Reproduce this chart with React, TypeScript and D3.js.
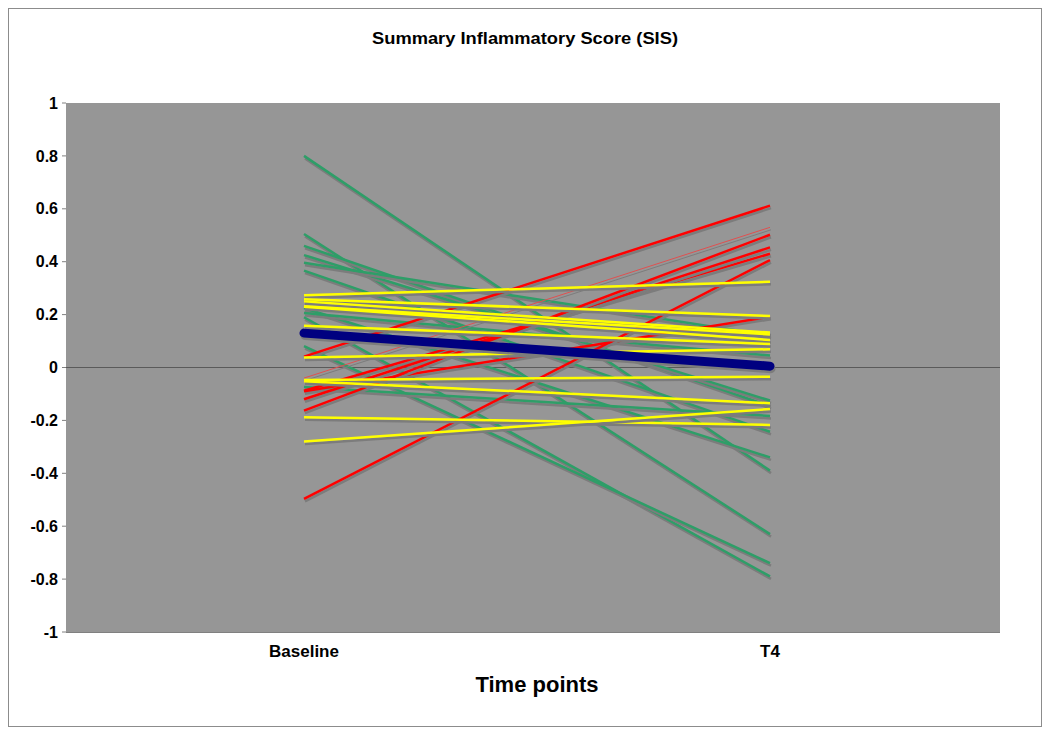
import React from "react";
import * as d3 from "d3";

const categories = ["Baseline", "T4"];
const yTicks = [1, 0.8, 0.6, 0.4, 0.2, 0, -0.2, -0.4, -0.6, -0.8, -1];

// each series: [baseline, T4]
const greenSeries: number[][] = [
  [0.8, -0.39],
  [0.505, -0.63],
  [0.46, -0.146],
  [0.425, -0.125],
  [0.396, 0.12],
  [0.366, -0.243],
  [0.225, -0.34],
  [0.206, 0.045],
  [0.19, -0.79],
  [0.081, -0.74],
  [-0.074, -0.183],
];
const yellowSeries: number[][] = [
  [0.273, 0.324],
  [0.258, 0.195],
  [0.25, 0.132],
  [0.232, 0.125],
  [0.23, 0.104],
  [0.158, 0.089],
  [0.038, 0.069],
  [-0.047, -0.035],
  [-0.052, -0.135],
  [-0.188, -0.217],
  [-0.28, -0.157],
];
const redSeries: number[][] = [
  [0.041, 0.612],
  [-0.088, 0.43],
  [-0.09, 0.192],
  [-0.12, 0.454],
  [-0.163, 0.502],
  [-0.497, 0.406],
];
const thinRedSeries: number[][] = [[-0.04, 0.53]];
const meanSeries: number[] = [0.13, 0.005];

const W = 1050;
const H = 735;
const plot = { left: 66, right: 1000, top: 103, bottom: 632 };
const FONT = "'Liberation Sans', Arial, sans-serif";

export default function App() {
  const x = d3
    .scalePoint<string>()
    .domain(categories)
    .range([plot.left + 5, plot.right + 3])
    .padding(0.5);
  const y = d3.scaleLinear().domain([-1, 1]).range([plot.bottom, plot.top]);
  const line = d3
    .line<number>()
    .x((_, i) => x(categories[i]) as number)
    .y((d) => y(d));

  const drawSet = (set: number[][], color: string, width: number, key: string) => (
    <g key={key}>
      {set.map((s, i) => (
        <g key={i}>
          <path
            d={line(s) || ""}
            transform="translate(1,2.5)"
            fill="none"
            stroke="#7c7c7c"
            strokeWidth={width}
          />
          <path d={line(s) || ""} fill="none" stroke={color} strokeWidth={width} />
        </g>
      ))}
    </g>
  );

  return (
    <svg
      width={W}
      height={H}
      style={{ position: "absolute", left: 0, top: 0, background: "#fff" }}
      fontFamily={FONT}
    >
      <rect x={8.5} y={8.5} width={1033} height={718} fill="#fff" stroke="#8c8c8c" />
      <text
        x={525}
        y={44}
        textAnchor="middle"
        fontSize={17}
        fontWeight="bold"
        textLength={306}
        lengthAdjust="spacingAndGlyphs"
      >
        Summary Inflammatory Score (SIS)
      </text>
      <rect
        x={plot.left}
        y={plot.top}
        width={plot.right - plot.left}
        height={plot.bottom - plot.top}
        fill="#969696"
      />
      <line
        x1={plot.left}
        x2={plot.right}
        y1={plot.bottom + 0.5}
        y2={plot.bottom + 0.5}
        stroke="#808080"
      />
      {yTicks.map((t) => (
        <g key={t}>
          <line x1={plot.left - 4} x2={plot.left} y1={y(t)} y2={y(t)} stroke="#808080" />
          <text
            x={58}
            y={y(t)}
            dy="0.35em"
            textAnchor="end"
            fontSize={16}
            fontWeight="bold"
          >
            {t}
          </text>
        </g>
      ))}
      <line
        x1={plot.left}
        x2={plot.right}
        y1={y(0)}
        y2={y(0)}
        stroke="#5a5a5a"
        strokeWidth={1}
      />
      {drawSet(greenSeries, "#2e9e68", 2.5, "g")}
      {drawSet(redSeries, "#ff0000", 2.5, "r")}
      {drawSet(thinRedSeries, "#e05050", 1, "tr")}
      {drawSet(yellowSeries, "#ffff00", 2.5, "y")}
      <path
        d={line(meanSeries) || ""}
        transform="translate(1,2.5)"
        fill="none"
        stroke="#7c7c7c"
        strokeWidth={9}
        strokeLinecap="round"
      />
      <path
        d={line(meanSeries) || ""}
        fill="none"
        stroke="#000080"
        strokeWidth={9}
        strokeLinecap="round"
      />
      {categories.map((c) => (
        <text
          key={c}
          x={x(c) as number}
          y={657}
          textAnchor="middle"
          fontSize={17}
          fontWeight="bold"
        >
          {c}
        </text>
      ))}
      <text x={537} y={692} textAnchor="middle" fontSize={22} fontWeight="bold">
        Time points
      </text>
    </svg>
  );
}
